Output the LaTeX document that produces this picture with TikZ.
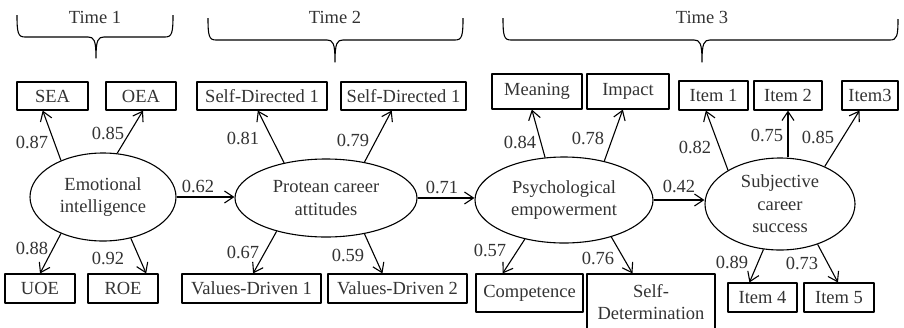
\documentclass[tikz,border=0pt]{standalone}
\usepackage{fontspec}
\setmainfont{Liberation Serif}
\usetikzlibrary{shapes.geometric,arrows.meta}
\begin{document}
\begin{tikzpicture}[x=1pt,y=-1pt,line width=1.1pt,line join=round,
  font=\fontsize{18.5}{22.5}\selectfont,text=black!80,
  obs/.style={draw,rectangle,inner sep=0pt,minimum height=29pt},
  lat/.style={draw,ellipse,inner sep=0pt,align=center},
  load/.style={-{Straight Barb[length=9pt,width=12pt]}},
  coef/.style={inner sep=0pt}]
  \useasboundingbox (0,0) rectangle (904,327);

  % time braces
  \draw (17,15) .. controls (17,33) and (18,37) .. (25,37) -- (88,37)
    .. controls (94,37) and (96,40) .. (96,58)
    .. controls (96,40) and (98,37) .. (104,37) -- (165,37)
    .. controls (172,37) and (173,33) .. (173,15);
  \draw (208,18) .. controls (208,36) and (209,40) .. (216,40) -- (327,40)
    .. controls (333,40) and (335,43) .. (335,62)
    .. controls (335,43) and (337,40) .. (343,40) -- (455,40)
    .. controls (462,40) and (463,36) .. (463,18);
  \draw (503,18) .. controls (503,36) and (504,40) .. (511,40) -- (694,40)
    .. controls (700,40) and (702,43) .. (702,62)
    .. controls (702,43) and (704,40) .. (710,40) -- (890,40)
    .. controls (897,40) and (898,36) .. (898,19);
  \node[coef] (time1) at (95,17) {Time 1};
  \node[coef] (time2) at (335,17) {Time 2};
  \node[coef] (time3) at (702,17) {Time 3};

  % latent factors
  \node[lat,minimum width=146pt,minimum height=88pt] (ei) at (103,197) {Emotional\\intelligence};
  \node[lat,minimum width=182pt,minimum height=78pt] (pca) at (326,198) {Protean career\\attitudes};
  \node[lat,minimum width=178pt,minimum height=86pt] (pe) at (564,200) {Psychological\\empowerment};
  \node[lat,minimum width=150pt,minimum height=92pt] (scs) at (780,204) {Subjective\\career\\success};

  % indicators
  \node[obs,minimum width=71pt,minimum height=28pt] (sea) at (52.5,96) {SEA};
  \node[obs,minimum width=70pt,minimum height=28pt] (oea) at (141,96) {OEA};
  \node[obs,minimum width=70pt] (uoe) at (40,288.5) {UOE};
  \node[obs,minimum width=70pt] (roe) at (123,288.5) {ROE};
  \node[obs,minimum width=130pt,minimum height=28pt] (sdone) at (262,96) {Self-Directed 1};
  \node[obs,minimum width=125pt,minimum height=28pt] (sdtwo) at (403.5,96) {Self-Directed 1};
  \node[obs,minimum width=139pt] (vdone) at (251.5,288.5) {Values-Driven 1};
  \node[obs,minimum width=139pt] (vdtwo) at (397.5,288.5) {Values-Driven 2};
  \node[obs,minimum width=90pt,minimum height=35pt] (mean) at (537,91.5) {Meaning};
  \node[obs,minimum width=82pt,minimum height=35pt] (impact) at (628,91.5) {Impact};
  \node[obs,minimum width=107pt,minimum height=38pt] (comp) at (529.5,293) {Competence};
  \node[obs,minimum width=128pt,minimum height=56pt,align=center] (sdet) at (651,302) {Self-\\Determination};
  \node[obs,minimum width=69pt] (item1) at (713.5,95.5) {Item 1};
  \node[obs,minimum width=68pt] (item2) at (788,95.5) {Item 2};
  \node[obs,minimum width=56pt] (item3) at (870,95.5) {Item3};
  \node[obs,minimum width=69pt] (item4) at (762.5,297.5) {Item 4};
  \node[obs,minimum width=70pt] (item5) at (839,297.5) {Item 5};

  % paths
  \path[load]
   (ei.139) edge (sea.236)
   (ei.72) edge (oea.278)
   (ei.221) edge (uoe.90)
   (ei.304) edge (roe.33)
   (pca.140) edge (sdone.254)
   (pca.43) edge (sdtwo.231)
   (pca.214) edge (vdone.84)
   (pca.317) edge (vdtwo.135)
   (pe.114) edge (mean.254)
   (pe.44) edge (impact.254)
   (pe.225) edge (comp.144)
   (pe.322) edge (sdet.123)
   (scs.147) edge (item1.243)
   (item2.south |- scs.north) edge (item2.south)
   (scs.40) edge (item3.235)
   (scs.250) edge (item4.131)
   (scs.313) edge (item5.94)
   (ei.east) edge (ei.east -| pca.west)
   (pca.east) edge (pca.east -| pe.west)
   (pe.east) edge (pe.east -| scs.west);

  % coefficients
  \node[coef] (c1) at (32,142) {0.87};
  \node[coef] (c2) at (108,133) {0.85};
  \node[coef] (c3) at (32,248) {0.88};
  \node[coef] (c4) at (108,258) {0.92};
  \node[coef] (c5) at (198,186) {0.62};
  \node[coef] (c6) at (243,138) {0.81};
  \node[coef] (c7) at (353,140) {0.79};
  \node[coef] (c8) at (243,252) {0.67};
  \node[coef] (c9) at (348,255) {0.59};
  \node[coef] (c10) at (442,187) {0.71};
  \node[coef] (c11) at (520,142) {0.84};
  \node[coef] (c12) at (588,138) {0.78};
  \node[coef] (c13) at (490,250) {0.57};
  \node[coef] (c14) at (598,258) {0.76};
  \node[coef] (c15) at (679,186) {0.42};
  \node[coef] (c16) at (695,147) {0.82};
  \node[coef] (c17) at (767,135) {0.75};
  \node[coef] (c18) at (818,137) {0.85};
  \node[coef] (c19) at (732,262) {0.89};
  \node[coef] (c20) at (802,263) {0.73};
\end{tikzpicture}
\end{document}
